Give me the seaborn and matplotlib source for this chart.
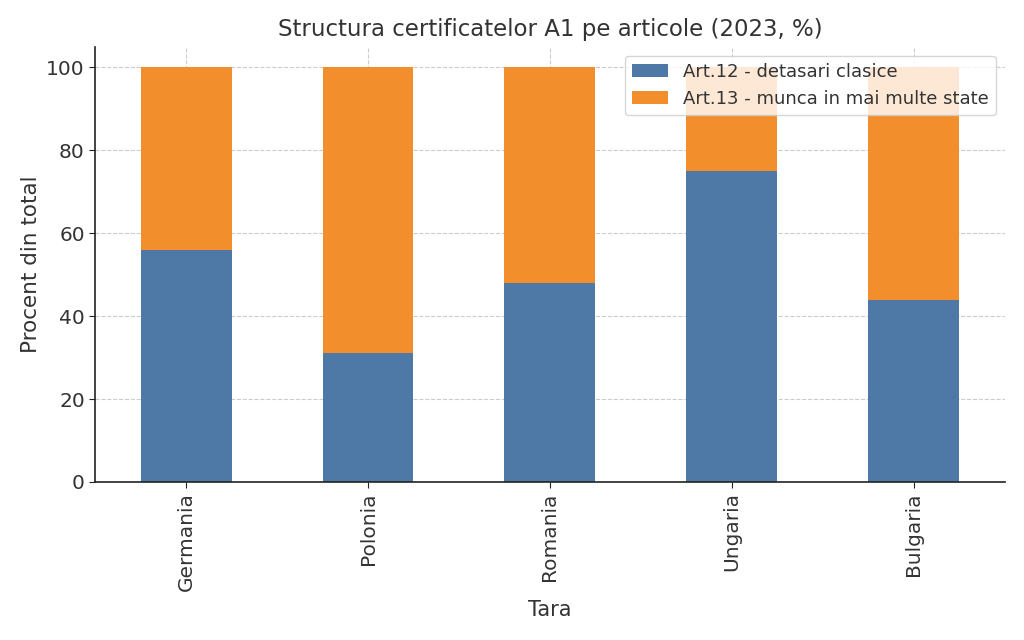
import pandas as pd
import numpy as np
import matplotlib.pyplot as plt
import seaborn as sns

# structura certificatelor A1 pe articole, 2023 (%)
tari = ['Germania', 'Polonia', 'Romania', 'Ungaria', 'Bulgaria']
art12 = [56, 31, 48, 75, 44]
art13 = [44, 69, 52, 25, 56]
y_ticks = [0, 20, 40, 60, 80, 100]

sns.set_style('white')
plt.rcParams['font.family'] = ['DejaVu Sans']
text_color = '#333333'

fig = plt.figure(figsize=(10.24, 6.4), dpi=100)
ax = fig.add_axes([0.093, 0.247, 0.888, 0.680])

df = pd.DataFrame({'Tara': tari, 'art12': art12, 'art13': art13})

sns.barplot(data=df, x='Tara', y='art12', color='#4E79A7', saturation=1,
            width=0.5, linewidth=0, label='Art.12 - detasari clasice',
            ax=ax, zorder=2)
sns.barplot(data=df, x='Tara', y='art13', bottom=df['art12'], color='#F28E2B',
            saturation=1, width=0.5, linewidth=0,
            label='Art.13 - munca in mai multe state', ax=ax, zorder=2)

ax.set_xlim(-0.5, 4.5)
ax.set_ylim(0, 105)
ax.set_yticks(y_ticks)
ax.grid(True, linestyle='--', color='#cccccc', linewidth=0.8, zorder=0)
ax.set_axisbelow(True)
sns.despine(ax=ax)
for s in ['left', 'bottom']:
    ax.spines[s].set_color('#222222')
    ax.spines[s].set_linewidth(1.2)

ax.tick_params(axis='both', labelsize=14.5, colors='#222222', direction='out',
               length=4, bottom=True, left=True)
ax.set_xticks(range(len(tari)))
ax.set_xticklabels(tari, rotation=90, color=text_color)
for lbl in ax.get_yticklabels():
    lbl.set_color(text_color)

ax.set_title('Structura certificatelor A1 pe articole (2023, %)', fontsize=16.5,
             color=text_color, pad=8)
ax.set_xlabel('Tara', fontsize=15, color=text_color, labelpad=6)
ax.set_ylabel('Procent din total', fontsize=15.5, color=text_color)

leg = ax.legend(loc='upper right', fontsize=13, frameon=True,
                bbox_to_anchor=(1.0, 1.0))
for t in leg.get_texts():
    t.set_color(text_color)

fig.savefig('out.png', dpi=100)
